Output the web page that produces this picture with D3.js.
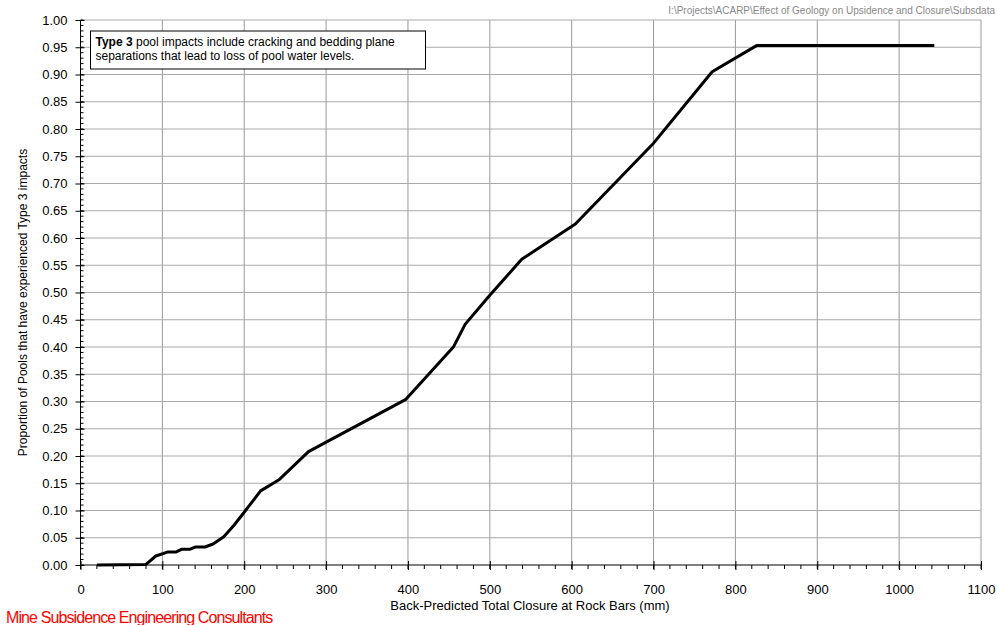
<!DOCTYPE html>
<html>
<head>
<meta charset="utf-8">
<script src="https://cdn.jsdelivr.net/npm/d3@7"></script>
<style>
  body { margin: 0; background: #fff; }
  text { font-family: "Liberation Sans", Arial, sans-serif; }
</style>
</head>
<body>
<div id="chart"></div>
<script>
// Data
const closure = [20, 80, 92, 107, 117, 124, 134, 140, 152, 162, 175, 187, 199, 220, 243, 278.5, 397.5, 455.8, 470, 500, 539, 604.5, 700, 771.6, 825.8, 1043];
const proportion = [0, 0.001, 0.0165, 0.024, 0.024, 0.029, 0.029, 0.033, 0.033, 0.0385, 0.052, 0.072, 0.095, 0.136, 0.157, 0.208, 0.304, 0.4006, 0.442, 0.495, 0.561, 0.6257, 0.774, 0.905, 0.953, 0.953];
const xTicks = d3.range(0, 1101, 100);
const yTicks = d3.range(0, 1.0001, 0.05);

const data = closure.map((c, i) => ({ x: c, y: proportion[i] }));

const W = 997, H = 625;
const margin = { top: 20, right: 16, bottom: 60, left: 80.5 };
const width = W - margin.left - margin.right;
const height = H - margin.top - margin.bottom;

const svg = d3.select("#chart").append("svg")
  .attr("width", W)
  .attr("height", H);

const g = svg.append("g")
  .attr("transform", `translate(${margin.left},${margin.top})`);

const x = d3.scaleLinear().domain([0, 1100]).range([0, width]);
const y = d3.scaleLinear().domain([0, 1]).range([height, 0]);

// gridlines
g.selectAll(".vgrid")
  .data(xTicks.slice(1))
  .join("line")
  .attr("x1", d => x(d)).attr("x2", d => x(d))
  .attr("y1", 0).attr("y2", height)
  .attr("stroke", "#999").attr("stroke-width", 1);

g.selectAll(".hgrid")
  .data(yTicks.slice(1))
  .join("line")
  .attr("x1", 0).attr("x2", width)
  .attr("y1", d => y(d)).attr("y2", d => y(d))
  .attr("stroke", "#aaa").attr("stroke-width", 1);

// minor ticks
g.append("g")
  .selectAll("line")
  .data(d3.range(0, 1.0001, 0.01))
  .join("line")
  .attr("x1", 0).attr("x2", 3)
  .attr("y1", d => y(d)).attr("y2", d => y(d))
  .attr("stroke", "#000");

g.append("g")
  .selectAll("line")
  .data(d3.range(0, 1101, 20))
  .join("line")
  .attr("x1", d => x(d)).attr("x2", d => x(d))
  .attr("y1", height).attr("y2", height + 4)
  .attr("stroke", "#000");

// y axis
g.append("g")
  .call(d3.axisLeft(y).tickValues(yTicks).tickFormat(d3.format(".2f")).tickSize(5).tickPadding(8))
  .call(a => a.selectAll(".tick line").attr("x2", -5).attr("x1", 4))
  .call(a => a.select(".domain").attr("d", `M0,0V${height}`))
  .selectAll("text")
  .style("font-size", "13px")
  .attr("fill", "#000");

// x axis
g.append("g")
  .attr("transform", `translate(0,${height})`)
  .call(d3.axisBottom(x).tickValues(xTicks).tickFormat(d3.format("d")).tickSize(5).tickPadding(15))
  .call(a => a.selectAll(".tick line").attr("y1", -4).attr("y2", 5))
  .call(a => a.select(".domain").attr("d", `M0,0H${width}`))
  .selectAll("text")
  .style("font-size", "13px")
  .attr("fill", "#000");

// curve
g.append("path")
  .datum(data)
  .attr("fill", "none")
  .attr("stroke", "#000")
  .attr("stroke-width", 3)
  .attr("stroke-linejoin", "round")
  .attr("d", d3.line().x(d => x(d.x)).y(d => y(d.y)));

// annotation box
const box = g.append("g").attr("transform", "translate(10,11)");
box.append("rect")
  .attr("width", 335).attr("height", 38)
  .attr("fill", "#fff").attr("stroke", "#000").attr("stroke-width", 1);
const t1 = box.append("text").attr("x", 5).attr("y", 15).style("font-size", "12px");
t1.append("tspan").style("font-weight", "bold").text("Type 3");
t1.append("tspan").text(" pool impacts include cracking and bedding plane");
box.append("text").attr("x", 5).attr("y", 29).style("font-size", "12px")
  .text("separations that lead to loss of pool water levels.");

// axis titles
svg.append("text")
  .attr("x", 530).attr("y", 610)
  .attr("text-anchor", "middle")
  .style("font-size", "13px")
  .text("Back-Predicted Total Closure at Rock Bars (mm)");

svg.append("text")
  .attr("transform", `translate(27,${margin.top + height / 2 + 10}) rotate(-90)`)
  .attr("text-anchor", "middle")
  .style("font-size", "12px")
  .text("Proportion of Pools that have experienced Type 3 impacts");

// file path and footer
svg.append("text")
  .attr("x", 995).attr("y", 14)
  .attr("text-anchor", "end")
  .style("font-size", "10px")
  .attr("fill", "#888")
  .text("I:\\Projects\\ACARP\\Effect of Geology on Upsidence and Closure\\Subsdata");

svg.append("text")
  .attr("x", 6).attr("y", 623)
  .style("font-size", "16px")
  .style("letter-spacing", "-0.9px")
  .attr("fill", "#ff0000")
  .text("Mine Subsidence Engineering Consultants");
</script>
</body>
</html>
